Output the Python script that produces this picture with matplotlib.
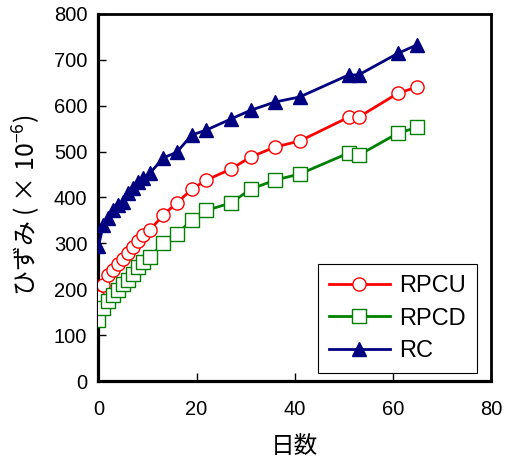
import matplotlib
matplotlib.use("Agg")
import matplotlib.pyplot as plt

plt.rcParams['font.family'] = ['Liberation Sans', 'Noto Sans CJK JP', 'DejaVu Sans']
plt.rcParams['mathtext.fontset'] = 'custom'
plt.rcParams['mathtext.rm'] = 'Noto Sans CJK JP'
plt.rcParams['mathtext.it'] = 'Noto Sans CJK JP'
plt.rcParams['mathtext.bf'] = 'Noto Sans CJK JP'

days = [0, 1, 2, 3, 4, 5, 6, 7, 8, 9, 10.5, 13.2, 16, 19, 22, 27, 31, 36, 41, 51, 53, 61, 65]
rpcu = [183, 210, 230, 243, 254, 266, 280, 292, 305, 318, 329, 362, 388, 418, 438, 462,
        488, 510, 523, 575, 575, 627, 641]
rpcd = [134, 160, 175, 187, 198, 211, 220, 234, 249, 260, 271, 300, 320, 351, 372, 388,
        418, 438, 451, 497, 492, 540, 553]
rc = [294, 340, 355, 372, 383, 390, 410, 420, 434, 442, 453, 486, 499, 536, 547, 571,
      590, 608, 619, 667, 667, 714, 733]

series_names = ['RPCU', 'RPCD', 'RC']
x_ticks = [0, 20, 40, 60, 80]
y_ticks = [0, 100, 200, 300, 400, 500, 600, 700, 800]

fig = plt.figure(figsize=(5.10, 4.63), dpi=100)
ax = fig.add_axes([0.193, 0.177, 0.770, 0.793])

ax.plot(days, rpcu, color='#FF0000', lw=2.0, marker='o', ms=9.5, mfc='white',
        mec='#FF0000', mew=1.0, label=series_names[0], zorder=3)
ax.plot(days, rpcd, color='#008000', lw=2.0, marker='s', ms=9.5, mfc='white',
        mec='#008000', mew=1.0, label=series_names[1], zorder=3)
ax.plot(days, rc, color='#000080', lw=2.0, marker='^', ms=10.5, mfc='#000080',
        mec='#000080', mew=1.0, label=series_names[2], zorder=3)

ax.set_xlim(0, 80)
ax.set_ylim(0, 800)
ax.set_xticks(x_ticks)
ax.set_yticks(y_ticks)
ax.tick_params(direction='in', length=6, width=1, labelsize=14.5, top=False, right=False,
               pad=8)
ax.tick_params(axis='x', pad=14)
for s in ['left', 'bottom']:
    ax.spines[s].set_linewidth(2.3)
for s in ['top', 'right']:
    ax.spines[s].set_linewidth(2.0)

ax.set_xlabel('日数', fontsize=17, labelpad=12)
ax.set_ylabel('ひずみ ( × 10$^{-6}$)', fontsize=18, labelpad=8,
              family=['Noto Sans CJK JP', 'DejaVu Sans'])
ax.yaxis.set_label_coords(-0.14, 0.48)

leg = ax.legend(loc='lower right', bbox_to_anchor=(0.964, 0.022), fontsize=17,
                frameon=True, fancybox=False, edgecolor='black', framealpha=1,
                handlelength=2.6, handletextpad=0.4, borderpad=0.45, labelspacing=0.45,
                borderaxespad=0)
leg.get_frame().set_linewidth(0.8)
leg.set_zorder(5)

fig.savefig('out.png', dpi=100)
